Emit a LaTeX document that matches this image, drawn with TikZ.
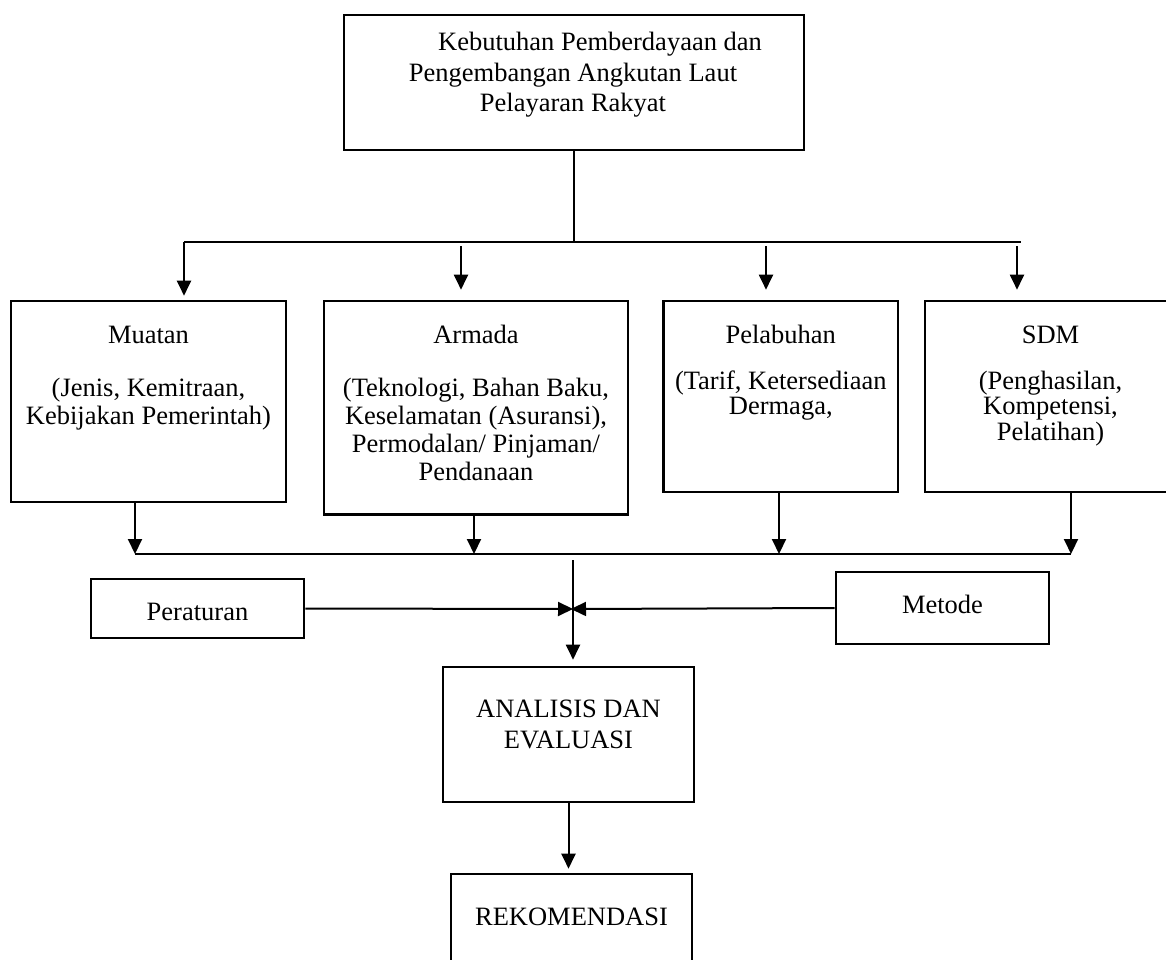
\documentclass[tikz,border=0pt]{standalone}
\usepackage{fontspec}
\setmainfont{Liberation Serif}
\usetikzlibrary{arrows.meta,positioning}
\tikzset{
  box/.style={draw=black, line width=1.3pt, inner sep=0pt},
  txt/.style={inner sep=0pt, align=center, anchor=base, font=\fontsize{13.25}{14}\selectfont},
  tight/.style={font=\fontsize{13.25}{12.75}\selectfont},
  link/.style={line width=1pt, black},
  arr/.style={link, -{Triangle[length=7.5pt,width=7pt]}}
}

\begin{document}
\begin{tikzpicture}[x=0.5pt,y=-0.5pt]
  \useasboundingbox (0,0) rectangle (1166,959);
  \clip (0,0) rectangle (1166,959);
  % boxes
  \node[box, minimum width=230pt, minimum height=67.5pt] (kebutuhan) at (574,82.5) {};
  \node[box, minimum width=137.5pt, minimum height=100.5pt] (muatan) at (148.5,401.5) {};
  \node[box, minimum width=152pt, minimum height=106.75pt] (armada) at (476,407.75) {};
  \node[box, minimum width=117.25pt, minimum height=95.5pt] (pelabuhan) at (780.75,396.5) {};
  \node[box, minimum width=125.5pt, minimum height=95.5pt] (sdm) at (1050.5,396.5) {};
  \node[box, minimum width=106.5pt, minimum height=29.5pt] (peraturan) at (197.5,608.5) {};
  \node[box, minimum width=106.5pt, minimum height=36pt] (metode) at (942.5,608) {};
  \node[box, minimum width=125.5pt, minimum height=67.5pt] (analisis) at (568.5,734.5) {};
  \node[box, minimum width=120.5pt, minimum height=53pt] (rekomendasi) at (571.5,927) {};
  % texts (base = last line)
  \node[txt, font=\fontsize{13.25}{15.25}\selectfont] (kebutuhan-t) at (573,111.7)
    {\hspace*{27pt}Kebutuhan Pemberdayaan dan\\Pengembangan Angkutan Laut\\Pelayaran Rakyat};
  \node[txt] (muatan-t) at (148.5,424) {Muatan\\[12.5pt](Jenis, Kemitraan,\\Kebijakan Pemerintah)};
  \node[txt] (armada-t) at (476,480) {Armada\\[12.5pt](Teknologi, Bahan Baku,\\Keselamatan (Asuransi),\\Permodalan/ Pinjaman/\\Pendanaan};
  \node[txt, tight] (pelabuhan-t) at (780.75,414.5) {Pelabuhan\\[10.25pt](Tarif, Ketersediaan\\Dermaga,};
  \node[txt, tight] (sdm-t) at (1050.5,440) {SDM\\[10.25pt](Penghasilan,\\Kompetensi,\\Pelatihan)};
  \node[txt] (peraturan-t) at (197.5,620) {Peraturan};
  \node[txt] (metode-t) at (942.5,613.3) {Metode};
  \node[txt, font=\fontsize{13.25}{15.25}\selectfont] (analisis-t) at (568.5,748.3) {ANALISIS DAN\\EVALUASI};
  \node[txt] (rekomendasi-t) at (571.5,925) {REKOMENDASI};
  % upper bar
  \coordinate (barL) at (184,242);
  \coordinate (barR) at (1021,242);
  \coordinate (a2) at (461,242);
  \coordinate (a3) at (766,242);
  \coordinate (a4) at (1017,242);
  \draw[link] (kebutuhan.south) -- (kebutuhan.south |- barL);
  \draw[link] (barL) -- (barR);
  \draw[arr, shorten >=2pt] (barL) -- (barL |- muatan.north);
  \foreach \a/\b in {a2/armada,a3/pelabuhan,a4/sdm}
    \draw[arr, shorten <=2pt, shorten >=5pt] (\a) -- (\a |- \b.north);
  % lower bar
  \coordinate (b1) at (135,554);
  \coordinate (b2) at (474,554);
  \coordinate (b3) at (779,554);
  \coordinate (b4) at (1071,554);
  \draw[link] (b1) -- (b4);
  \foreach \a/\b in {b1/muatan,b2/armada,b3/pelabuhan,b4/sdm}
    \draw[arr] (\a |- \b.south) -- (\a);
  % junction
  \coordinate (jtop) at (573,560);
  \coordinate (jn) at (573,609);
  \draw[arr, shorten >=3pt] (jtop) -- (jtop |- analisis.north);
  \draw[arr] (peraturan.east) -- (jn);
  \draw[arr, shorten >=-1pt] (metode.west) -- (jn);
  \draw[arr, shorten >=2pt] (analisis.south) -- (analisis.south |- rekomendasi.north);
\end{tikzpicture}
\end{document}
